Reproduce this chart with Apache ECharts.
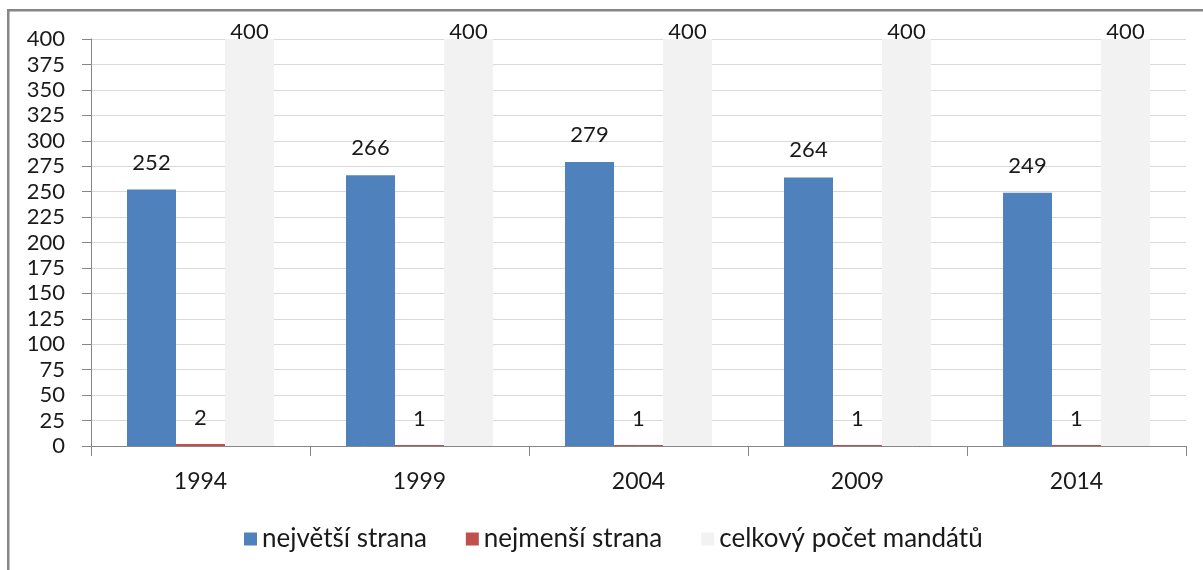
<!DOCTYPE html>
<html>
<head>
<meta charset="utf-8">
<script src="https://cdn.jsdelivr.net/npm/echarts@6/dist/echarts.min.js"></script>
<style>
  html, body { margin: 0; padding: 0; background: #fff; }
  #chart { width: 1203px; height: 570px; }
</style>
</head>
<body>
<div id="chart"></div>
<script>
// Election years and seat counts
const years = ['1994', '1999', '2004', '2009', '2014'];
const largestParty = [252, 266, 279, 264, 249];
const smallestParty = [2, 1, 1, 1, 1];
const totalSeats = [400, 400, 400, 400, 400];
const seriesNames = ['největší strana', 'nejmenší strana', 'celkový počet mandátů'];

const FONT = 'Lato, "Open Sans", sans-serif';
const TEXT = '#1a1a1a';
const AXIS = '#868686';

const chart = echarts.init(document.getElementById('chart'), null, { renderer: 'canvas' });

function barSeries(name, data, color, distance) {
  return {
    name: name,
    type: 'bar',
    data: data,
    barWidth: 49,
    barGap: '0%',
    itemStyle: { color: color },
    label: {
      show: true,
      position: 'top',
      distance: distance,
      color: TEXT,
      fontFamily: FONT,
      fontSize: 22
    },
    emphasis: { disabled: true },
    animation: false
  };
}

chart.setOption({
  animation: false,
  backgroundColor: '#ffffff',
  grid: { left: 91, right: 17, top: 39, bottom: 124, containLabel: false },
  legend: {
    left: 239,
    top: 519,
    itemWidth: 13,
    itemHeight: 13,
    itemGap: 39,
    icon: 'rect',
    textStyle: { color: TEXT, fontFamily: FONT, fontSize: 26, lineHeight: 30 },
    data: seriesNames
  },
  xAxis: {
    type: 'category',
    data: years,
    axisLine: { show: true, lineStyle: { color: AXIS, width: 1 } },
    axisTick: { show: true, length: 10, interval: 0, lineStyle: { color: AXIS } },
    axisLabel: { color: TEXT, fontFamily: FONT, fontSize: 23, margin: 24 },
    splitLine: { show: false }
  },
  yAxis: {
    type: 'value',
    min: 0,
    max: 400,
    interval: 25,
    axisLine: { show: true, lineStyle: { color: AXIS, width: 1 } },
    axisTick: { show: true, inside: false, length: 9, lineStyle: { color: AXIS } },
    axisLabel: { color: TEXT, fontFamily: FONT, fontSize: 22, margin: 26 },
    splitLine: { show: true, lineStyle: { color: '#d9d9d9', width: 1 } }
  },
  series: [
    barSeries(seriesNames[0], largestParty, '#4f81bd', 16),
    barSeries(seriesNames[1], smallestParty, '#c0504d', 15),
    barSeries(seriesNames[2], totalSeats, '#f2f2f2', -4)
  ],
  graphic: [
    // chart frame: left and top edges
    { type: 'rect', shape: { x: 7, y: 9, width: 1200, height: 2.5 }, style: { fill: AXIS }, silent: true },
    { type: 'rect', shape: { x: 7, y: 9, width: 2.5, height: 570 }, style: { fill: AXIS }, silent: true }
  ]
});
</script>
</body>
</html>
